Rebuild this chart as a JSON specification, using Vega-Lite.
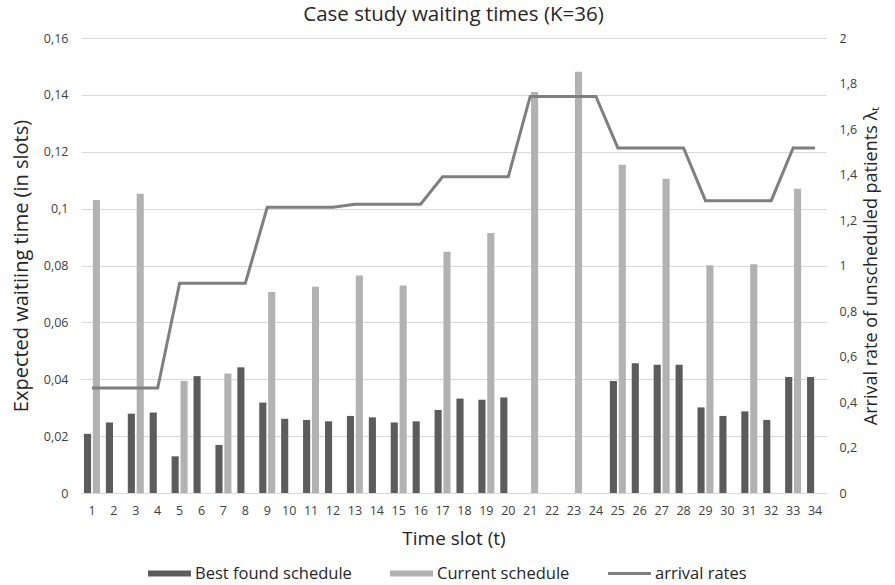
{
  "$schema": "https://vega.github.io/schema/vega-lite/v6.json",
  "width": 745,
  "height": 455,
  "autosize": "none",
  "padding": {"left": 81, "top": 38, "right": 69, "bottom": 92},
  "background": "white",
  "title": {"text": "Case study waiting times (K=36)", "fontSize": 20.5, "font": "Open Sans", "fontWeight": "normal", "color": "#262626", "offset": 7, "anchor": "middle"},
  "datasets": {
    "bars": [
      {"slot": 1, "series": "Best found schedule", "value": 0.0208},
      {"slot": 1, "series": "Current schedule", "value": 0.103},
      {"slot": 2, "series": "Best found schedule", "value": 0.0248},
      {"slot": 3, "series": "Best found schedule", "value": 0.0279},
      {"slot": 3, "series": "Current schedule", "value": 0.1052},
      {"slot": 4, "series": "Best found schedule", "value": 0.0283},
      {"slot": 5, "series": "Best found schedule", "value": 0.0129},
      {"slot": 5, "series": "Current schedule", "value": 0.0394},
      {"slot": 6, "series": "Best found schedule", "value": 0.0411},
      {"slot": 7, "series": "Best found schedule", "value": 0.0169},
      {"slot": 7, "series": "Current schedule", "value": 0.042},
      {"slot": 8, "series": "Best found schedule", "value": 0.0442},
      {"slot": 9, "series": "Best found schedule", "value": 0.0318},
      {"slot": 9, "series": "Current schedule", "value": 0.0707},
      {"slot": 10, "series": "Best found schedule", "value": 0.0261},
      {"slot": 11, "series": "Best found schedule", "value": 0.0257},
      {"slot": 11, "series": "Current schedule", "value": 0.0725},
      {"slot": 12, "series": "Best found schedule", "value": 0.0252},
      {"slot": 13, "series": "Best found schedule", "value": 0.0271},
      {"slot": 13, "series": "Current schedule", "value": 0.0765},
      {"slot": 14, "series": "Best found schedule", "value": 0.0266},
      {"slot": 15, "series": "Best found schedule", "value": 0.0248},
      {"slot": 15, "series": "Current schedule", "value": 0.073},
      {"slot": 16, "series": "Best found schedule", "value": 0.0252},
      {"slot": 17, "series": "Best found schedule", "value": 0.0292},
      {"slot": 17, "series": "Current schedule", "value": 0.0848},
      {"slot": 18, "series": "Best found schedule", "value": 0.0332},
      {"slot": 19, "series": "Best found schedule", "value": 0.0328},
      {"slot": 19, "series": "Current schedule", "value": 0.0914},
      {"slot": 20, "series": "Best found schedule", "value": 0.0336},
      {"slot": 21, "series": "Current schedule", "value": 0.141},
      {"slot": 23, "series": "Current schedule", "value": 0.1481},
      {"slot": 25, "series": "Best found schedule", "value": 0.0394},
      {"slot": 25, "series": "Current schedule", "value": 0.1154},
      {"slot": 26, "series": "Best found schedule", "value": 0.0456},
      {"slot": 27, "series": "Best found schedule", "value": 0.0451},
      {"slot": 27, "series": "Current schedule", "value": 0.1105},
      {"slot": 28, "series": "Best found schedule", "value": 0.0451},
      {"slot": 29, "series": "Best found schedule", "value": 0.0301},
      {"slot": 29, "series": "Current schedule", "value": 0.0801},
      {"slot": 30, "series": "Best found schedule", "value": 0.0271},
      {"slot": 31, "series": "Best found schedule", "value": 0.0287},
      {"slot": 31, "series": "Current schedule", "value": 0.0804},
      {"slot": 32, "series": "Best found schedule", "value": 0.0257},
      {"slot": 33, "series": "Best found schedule", "value": 0.0408},
      {"slot": 33, "series": "Current schedule", "value": 0.107},
      {"slot": 34, "series": "Best found schedule", "value": 0.0408}
    ],
    "rates": [
      {"slot": 1, "series": "arrival rates", "rate": 0.461},
      {"slot": 2, "series": "arrival rates", "rate": 0.461},
      {"slot": 3, "series": "arrival rates", "rate": 0.461},
      {"slot": 4, "series": "arrival rates", "rate": 0.461},
      {"slot": 5, "series": "arrival rates", "rate": 0.922},
      {"slot": 6, "series": "arrival rates", "rate": 0.922},
      {"slot": 7, "series": "arrival rates", "rate": 0.922},
      {"slot": 8, "series": "arrival rates", "rate": 0.922},
      {"slot": 9, "series": "arrival rates", "rate": 1.256},
      {"slot": 10, "series": "arrival rates", "rate": 1.256},
      {"slot": 11, "series": "arrival rates", "rate": 1.256},
      {"slot": 12, "series": "arrival rates", "rate": 1.256},
      {"slot": 13, "series": "arrival rates", "rate": 1.269},
      {"slot": 14, "series": "arrival rates", "rate": 1.269},
      {"slot": 15, "series": "arrival rates", "rate": 1.269},
      {"slot": 16, "series": "arrival rates", "rate": 1.269},
      {"slot": 17, "series": "arrival rates", "rate": 1.39},
      {"slot": 18, "series": "arrival rates", "rate": 1.39},
      {"slot": 19, "series": "arrival rates", "rate": 1.39},
      {"slot": 20, "series": "arrival rates", "rate": 1.39},
      {"slot": 21, "series": "arrival rates", "rate": 1.743},
      {"slot": 22, "series": "arrival rates", "rate": 1.743},
      {"slot": 23, "series": "arrival rates", "rate": 1.743},
      {"slot": 24, "series": "arrival rates", "rate": 1.743},
      {"slot": 25, "series": "arrival rates", "rate": 1.517},
      {"slot": 26, "series": "arrival rates", "rate": 1.517},
      {"slot": 27, "series": "arrival rates", "rate": 1.517},
      {"slot": 28, "series": "arrival rates", "rate": 1.517},
      {"slot": 29, "series": "arrival rates", "rate": 1.285},
      {"slot": 30, "series": "arrival rates", "rate": 1.285},
      {"slot": 31, "series": "arrival rates", "rate": 1.285},
      {"slot": 32, "series": "arrival rates", "rate": 1.285},
      {"slot": 33, "series": "arrival rates", "rate": 1.517},
      {"slot": 34, "series": "arrival rates", "rate": 1.517}
    ]
  },
  "layer": [
    {
      "data": {"name": "bars"},
      "mark": {"type": "bar"},
      "encoding": {
        "x": {
          "field": "slot", "type": "ordinal",
          "scale": {"paddingInner": 0.27, "paddingOuter": 0.135},
          "axis": {"title": "Time slot (t)", "labelAngle": 0, "ticks": false, "domainColor": "#d9d9d9", "labelPadding": 11, "titlePadding": 13, "titleFontSize": 19}
        },
        "xOffset": {"field": "series", "type": "nominal", "scale": {"domain": ["Best found schedule", "Current schedule"], "paddingInner": 0.2, "paddingOuter": 0}},
        "y": {
          "field": "value", "type": "quantitative",
          "scale": {"domain": [0, 0.16], "nice": false},
          "axis": {"title": "Expected waitiing time (in slots)", "values": [0, 0.02, 0.04, 0.06, 0.08, 0.1, 0.12, 0.14, 0.16], "labelExpr": "replace(datum.label, '.', ',')", "format": "~g", "domain": false, "ticks": false, "grid": true, "gridColor": "#d9d9d9", "labelPadding": 13, "titlePadding": 12, "titleFontSize": 20}
        },
        "color": {
          "field": "series", "type": "nominal",
          "scale": {"domain": ["Best found schedule", "Current schedule", "arrival rates"], "range": ["#5c5c5c", "#b2b2b2", "#7f7f7f"]},
          "legend": {
            "title": null, "orient": "none", "legendX": 67, "legendY": 514, "direction": "horizontal",
            "labelFontSize": 16.5, "labelFont": "Open Sans", "labelColor": "#262626", "columnPadding": 38, "labelOffset": 4,
            "symbolSize": 1849, "labelLimit": 300,
            "encode": {"symbols": {"update": {
              "shape": {"signal": "datum.value === 'arrival rates' ? 'M-1,-0.07H1V0.07H-1Z' : 'M-1,-0.14H1V0.14H-1Z'"},
              "fill": {"signal": "scale('color', datum.value)"},
              "stroke": {"value": "transparent"},
              "strokeWidth": {"value": 0},
              "opacity": {"value": 1}
            }}}
          }
        }
      }
    },
    {
      "data": {"name": "rates"},
      "mark": {"type": "line", "strokeWidth": 3},
      "encoding": {
        "x": {"field": "slot", "type": "ordinal"},
        "y": {
          "field": "rate", "type": "quantitative",
          "scale": {"domain": [0, 2], "nice": false},
          "axis": {"orient": "right", "title": "Arrival rate of unscheduled patients λₜ", "titleAngle": 270, "titleBaseline": "top", "values": [0, 0.2, 0.4, 0.6, 0.8, 1, 1.2, 1.4, 1.6, 1.8, 2], "format": "~g", "labelExpr": "replace(datum.label, '.', ',')", "domain": false, "ticks": false, "grid": false, "labelPadding": 13, "titlePadding": 6, "titleFontSize": 18}
        },
        "color": {"field": "series", "type": "nominal"}
      }
    }
  ],
  "resolve": {"scale": {"y": "independent"}},
  "config": {
    "view": {"stroke": null},
    "font": "Open Sans",
    "axis": {"labelFont": "Open Sans", "labelFontSize": 12.5, "labelColor": "#404040", "titleFont": "Open Sans", "titleFontSize": 18, "titleFontWeight": "normal", "titleColor": "#262626"}
  }
}
